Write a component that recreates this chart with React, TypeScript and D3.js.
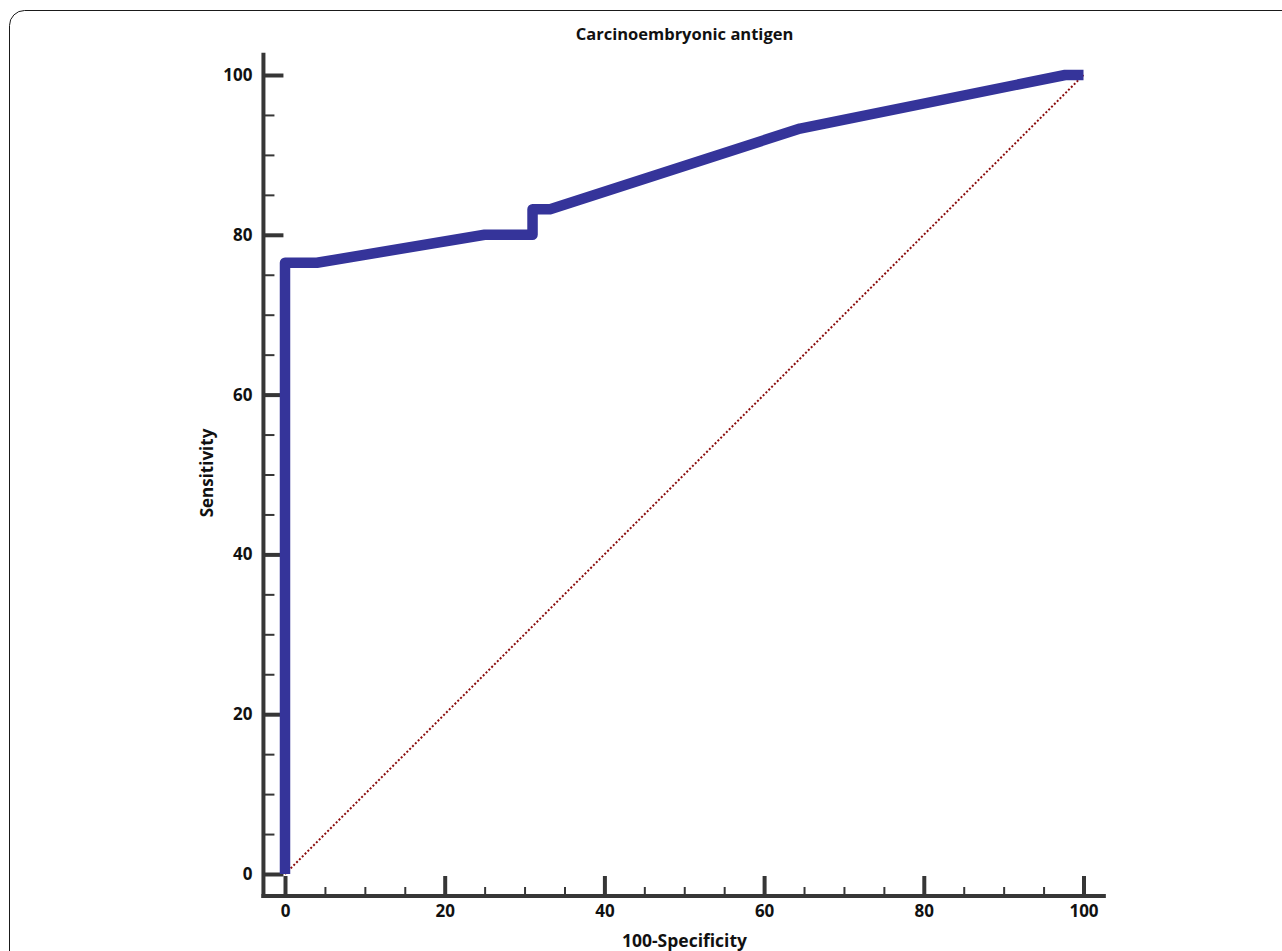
import React, { useEffect, useRef } from 'react';
import * as d3 from 'd3';

// ROC curve points: [100-Specificity, Sensitivity]
const rocX = [0, 0, 4, 25, 31, 31, 33.2, 64.5, 97.7, 100];
const rocY = [0, 76.5, 76.5, 80, 80, 83.2, 83.2, 93.3, 100, 100];
const diagonal = [0, 100];
const majorTicks = [0, 20, 40, 60, 80, 100];
const minorTicks = [5, 10, 15, 25, 30, 35, 45, 50, 55, 65, 70, 75, 85, 90, 95];
const title = 'Carcinoembryonic antigen';
const xLabel = '100-Specificity';
const yLabel = 'Sensitivity';

const W = 1282;
const H = 951;
const FONT = '"Open Sans", "DejaVu Sans", sans-serif';
const AXIS_COLOR = '#363636';

export default function App() {
  const ref = useRef<SVGSVGElement | null>(null);

  useEffect(() => {
    const svg = d3.select(ref.current);
    svg.selectAll('*').remove();

    const x = d3.scaleLinear().domain([0, 100]).range([285, 1083.5]);
    const y = d3.scaleLinear().domain([0, 100]).range([874, 75]);

    const axisX = x(-2.7); // where the y axis line sits
    const axisY = y(-2.75); // where the x axis line sits

    // frame
    svg.append('rect')
      .attr('x', 9.5).attr('y', 10.5)
      .attr('width', 1320).attr('height', 1000)
      .attr('rx', 15)
      .attr('fill', 'none')
      .attr('stroke', '#1a1a1a')
      .attr('stroke-width', 1);

    svg.append('text')
      .attr('x', 684.5).attr('y', 40)
      .attr('text-anchor', 'middle')
      .style('font', `bold 16.5px ${FONT}`)
      .attr('fill', '#111')
      .text(title);

    // y axis
    const yMajor = svg.append('g')
      .attr('transform', `translate(${axisX},0)`)
      .call(d3.axisLeft(y).tickValues(majorTicks).tickSizeInner(-20).tickSizeOuter(0).tickPadding(11));
    const yMinor = svg.append('g')
      .attr('transform', `translate(${axisX},0)`)
      .call(d3.axisLeft(y).tickValues(minorTicks).tickSizeInner(-11).tickSizeOuter(0).tickFormat(() => ''));

    // x axis
    const xMajor = svg.append('g')
      .attr('transform', `translate(0,${axisY})`)
      .call(d3.axisBottom(x).tickValues(majorTicks).tickSizeInner(-20).tickSizeOuter(0).tickPadding(9));
    const xMinor = svg.append('g')
      .attr('transform', `translate(0,${axisY})`)
      .call(d3.axisBottom(x).tickValues(minorTicks).tickSizeInner(-9).tickSizeOuter(0).tickFormat(() => ''));

    [yMajor, yMinor, xMajor, xMinor].forEach(g => g.select('.domain').remove());
    [yMajor, xMajor].forEach(g => {
      g.selectAll('.tick line').attr('stroke', AXIS_COLOR).attr('stroke-width', 4);
      g.selectAll('.tick text')
        .style('font', `bold 17px ${FONT}`)
        .attr('fill', '#111');
    });
    [yMinor, xMinor].forEach(g => {
      g.selectAll('.tick line').attr('stroke', AXIS_COLOR).attr('stroke-width', 2);
    });

    // axis lines
    svg.append('line')
      .attr('x1', axisX).attr('x2', axisX)
      .attr('y1', y(102.8)).attr('y2', axisY + 2)
      .attr('stroke', AXIS_COLOR).attr('stroke-width', 4);
    svg.append('line')
      .attr('x1', axisX - 2).attr('x2', x(102.8))
      .attr('y1', axisY).attr('y2', axisY)
      .attr('stroke', AXIS_COLOR).attr('stroke-width', 4);

    // reference diagonal
    svg.append('line')
      .attr('x1', x(diagonal[0])).attr('y1', y(diagonal[0]))
      .attr('x2', x(diagonal[1])).attr('y2', y(diagonal[1]))
      .attr('stroke', '#8b0d0d')
      .attr('stroke-width', 2)
      .attr('stroke-dasharray', '2,2');

    // ROC curve
    const line = d3.line<number>()
      .x((_, i) => x(rocX[i]))
      .y(d => y(d));
    svg.append('path')
      .attr('d', line(rocY))
      .attr('fill', 'none')
      .attr('stroke', '#35349a')
      .attr('stroke-width', 10.5)
      .attr('stroke-linejoin', 'round')
      .attr('stroke-linecap', 'butt');

    // axis titles
    svg.append('text')
      .attr('x', 684.5).attr('y', 947)
      .attr('text-anchor', 'middle')
      .style('font', `bold 17.5px ${FONT}`)
      .attr('fill', '#111')
      .text(xLabel);
    svg.append('text')
      .attr('transform', `translate(213,473) rotate(-90)`)
      .attr('text-anchor', 'middle')
      .style('font', `bold 17px ${FONT}`)
      .attr('fill', '#111')
      .text(yLabel);
  }, []);

  return (
    <svg
      ref={ref}
      width={W}
      height={H}
      style={{ position: 'absolute', left: 0, top: 0, background: '#fff' }}
    />
  );
}
